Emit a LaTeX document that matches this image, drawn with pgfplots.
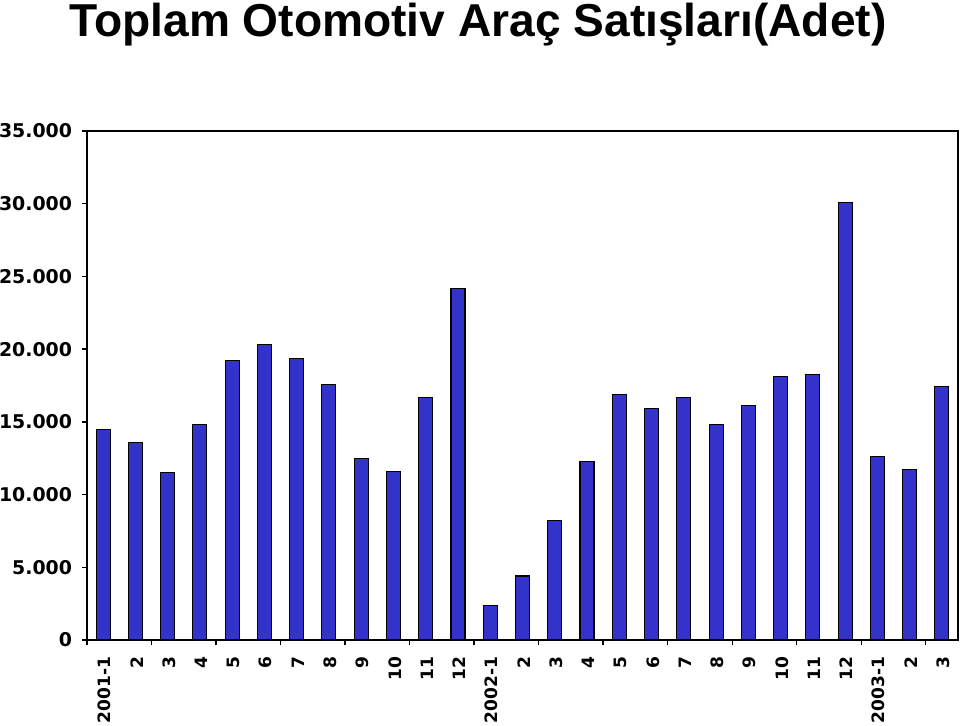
\documentclass[border=0pt]{standalone}
\usepackage{pgfplots}
\pgfplotsset{compat=1.18}
\usepackage{fontspec}
\setmainfont{DejaVu Sans}
\newfontfamily\titlefont{Liberation Sans}
\usetikzlibrary{calc}
\definecolor{barblue}{RGB}{51,51,204}
\begin{document}
\begin{tikzpicture}
\begin{axis}[
  scale only axis,
  width=653.25pt, height=381.75pt,
  xmin=-0.5, xmax=26.5, ymin=0, ymax=35000,
  axis line style={line width=1.1pt},
  xtick={0,...,26},
  xticklabels={2001-1,2,3,4,5,6,7,8,9,10,11,12,2002-1,2,3,4,5,6,7,8,9,10,11,12,2003-1,2,3},
  major x tick style={draw=none},
  minor xtick={-0.5,1.5,...,25.5},
  minor x tick style={line width=1pt, black},
  minor tick length=4pt,
  xtick pos=bottom, ytick pos=left,
  tick align=outside,
  ytick={0,5000,...,35000},
  major tick length=4pt,
  major y tick style={line width=1pt, black},
  scaled y ticks=false,
  /pgf/number format/.cd, 1000 sep={.}, assume math mode=true,
  /pgfplots/.cd,
  yticklabel style={font=\fontsize{14.2}{16}\selectfont\bfseries, anchor=east, inner sep=1pt, xshift=-6pt},
  xticklabel style={font=\fontsize{12.8}{14}\selectfont\bfseries, rotate=90, anchor=east, inner sep=1pt, xshift=-7.5pt, yshift=-1pt},
  clip=false,
]
\addplot[ybar, bar width=10.5pt, fill=barblue, draw=black, line width=0.8pt] coordinates {
(0,14450) (1,13550) (2,11500) (3,14800) (4,19200) (5,20300) (6,19330) (7,17600) (8,12500) (9,11600) (10,16700) (11,24200)
(12,2400) (13,4400) (14,8200) (15,12300) (16,16850) (17,15950) (18,16650) (19,14850) (20,16150) (21,18150) (22,18250) (23,30100)
(24,12650) (25,11700) (26,17400)};
\end{axis}
\node[font=\titlefont\fontsize{34.6}{40}\selectfont\bfseries, anchor=base] at ($(current axis.north west)+(293.25pt,70.5pt)$) {Toplam Otomotiv Araç Satışları(Adet)};
\pgfresetboundingbox
\path[use as bounding box] ($(current axis.south west)+(-65.25pt,-63.75pt)$) rectangle ($(current axis.north east)+(1.5pt,98.25pt)$);
\end{tikzpicture}
\end{document}
